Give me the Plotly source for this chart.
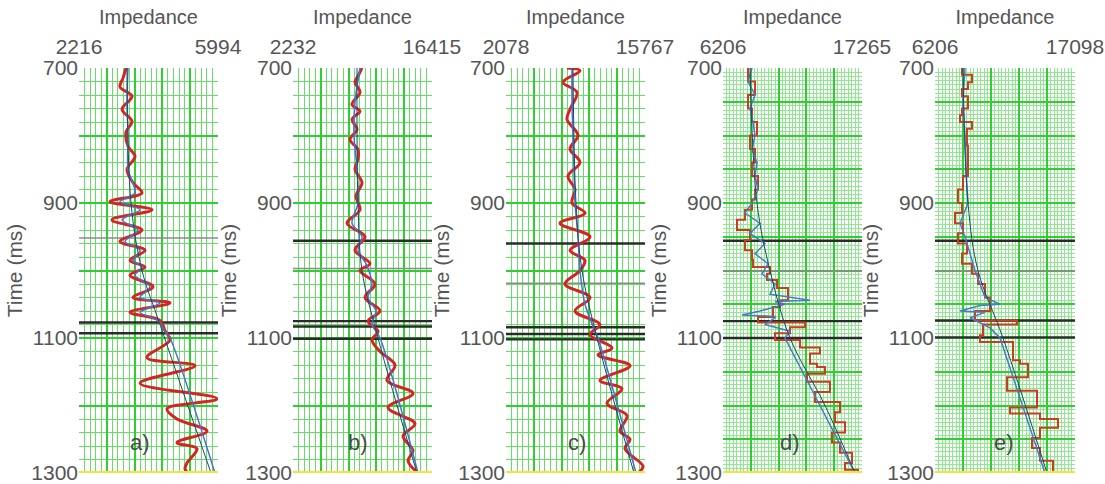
import plotly.graph_objects as go

# ---------------- data ----------------
TIME_MIN, TIME_MAX = 700, 1300
PANEL_LABELS = ["a)", "b)", "c)", "d)", "e)"]
X_MIN = [2216, 2232, 2078, 6206, 6206]
X_MAX = [5994, 16415, 15767, 17265, 17098]
Y_TICK_LABELS = ["700", "900", "1100", "1300"]
X_TITLE = "Impedance"
Y_TITLE = "Time (ms)"

# panel a
A_RED_T = [700, 715, 728, 742, 761, 779, 795, 816, 831, 850, 870, 885, 898, 910, 925, 940, 957, 970, 985, 995,
           1007, 1024, 1040, 1048, 1062, 1074, 1089, 1103, 1129, 1141, 1167, 1190, 1205, 1220, 1238, 1255, 1264,
           1285, 1294, 1300]
A_RED_V = [3493, 3412, 3330, 3657, 3385, 3657, 3493, 3548, 3738, 3521, 3684, 3928, 3059, 4200, 3113, 3928, 3330,
           4010, 3602, 4010, 3602, 4227, 3684, 4689, 3602, 4418, 4553, 4689, 4064, 5369, 3874, 5967, 4608, 4880,
           5695, 4880, 5423, 5151, 5097, 5179]
A_BLUE_T = [700, 750, 800, 850, 885, 898, 910, 925, 940, 957, 970, 985, 995, 1007, 1024, 1040, 1048, 1062, 1074,
            1090, 1100, 1300]
A_BLUE_V = [3548, 3521, 3548, 3548, 3738, 3330, 3874, 3385, 3820, 3466, 3874, 3684, 3928, 3738, 4146, 3874, 4418,
            3874, 4363, 4553, 4689, 5912]
A_TREND_T = [700, 900, 1000, 1080, 1300]
A_TREND_V = [3521, 3629, 3928, 4418, 5804]
A_DARK = [1077, 1093]
A_GRAY = [952]

# panel b
B_RED_T = [700, 712, 721, 736, 754, 764, 776, 791, 806, 821, 835, 850, 870, 890, 910, 930, 950, 970, 990, 1000,
           1020, 1040, 1060, 1075, 1090, 1103, 1120, 1140, 1163, 1182, 1203, 1227, 1245, 1267, 1282, 1300]
B_RED_V = [9273, 8865, 8558, 9069, 8252, 9069, 8252, 8763, 8048, 8865, 8865, 8558, 9273, 8660, 9069, 7742, 9579,
           8558, 10089, 9069, 10599, 9579, 11110, 9885, 10905, 10293, 11110, 12640, 11824, 14477, 11926, 14681,
           13456, 14477, 13967, 14987]
B_BLUE_T = [700, 750, 800, 850, 900, 930, 950, 970, 990, 1020, 1040, 1060, 1080, 1100, 1300]
B_BLUE_V = [9069, 8558, 8456, 8763, 8865, 8252, 9273, 8865, 9681, 10293, 9885, 10701, 10293, 11110, 14987]
B_TREND_T = [700, 900, 1000, 1100, 1300]
B_TREND_V = [8763, 8865, 9273, 10905, 14885]
B_DARK = [956, 1075, 1083, 1101]
B_GRAY = [997]

# panel c
C_RED_T = [700, 704, 721, 736, 761, 776, 800, 820, 840, 860, 880, 900, 915, 930, 950, 970, 985, 1000, 1020, 1040,
           1060, 1080, 1095, 1115, 1125, 1141, 1163, 1175, 1197, 1215, 1238, 1250, 1264, 1290, 1300]
C_RED_V = [8085, 9366, 7691, 9070, 8381, 8085, 9169, 8381, 9366, 8184, 8873, 8578, 9858, 7396, 10350, 8381, 9858,
           9366, 7888, 10350, 8873, 11335, 10350, 12517, 11138, 14290, 11335, 13502, 12024, 13994, 13305, 14290,
           13797, 15570, 15077]
C_BLUE_T = [700, 750, 800, 850, 900, 950, 1000, 1050, 1090, 1100, 1300]
C_BLUE_V = [8578, 8578, 8676, 8775, 8873, 9169, 9366, 9858, 10843, 11138, 14881]
C_TREND_T = [700, 900, 1000, 1100, 1300]
C_TREND_V = [8676, 8971, 9563, 11040, 14684]
C_DARK = [960, 1084, 1094, 1102]
C_GRAY = [1019]

# panel d
D_RED_T = [700, 720, 740, 760, 780, 800, 820, 840, 860, 880, 895, 910, 925, 940, 955, 970, 984, 995, 1005, 1014,
           1026, 1044, 1054, 1069, 1077, 1084, 1093, 1103, 1114, 1123, 1138, 1143, 1153, 1165, 1180, 1195, 1210,
           1225, 1240, 1255, 1270, 1285, 1295, 1300]
D_RED_V = [8195, 8752, 8195, 8513, 8911, 8354, 8752, 8513, 8991, 8752, 8513, 7956, 7320, 8354, 7956, 8513, 8593,
           9945, 9707, 10502, 11377, 10741, 10184, 8991, 12730, 11537, 10343, 12332, 13923, 13128, 13685, 14321,
           12889, 14719, 13526, 15514, 15117, 15912, 14878, 15514, 16469, 15912, 16946, 16946]
D_BLUE_T = [700, 720, 740, 760, 780, 800, 820, 840, 860, 880, 900, 915, 930, 945, 960, 975, 990, 1005, 1020, 1035,
            1044, 1046, 1050, 1060, 1066, 1068, 1070, 1080, 1090, 1100, 1300]
D_BLUE_V = [8513, 8195, 8752, 8354, 8593, 8752, 8513, 8911, 8752, 8991, 8513, 7956, 9150, 8354, 9548, 8752, 9786,
            9309, 10343, 9945, 13128, 10343, 11139, 9150, 7718, 10343, 10343, 9548, 11537, 11139, 16708]
D_TREND_T = [700, 900, 1000, 1100, 1200, 1300]
D_TREND_V = [8354, 8911, 9945, 11537, 14321, 16708]
D_DARK = [956, 1075, 1100]
D_GRAY = [1001]

# panel e
E_RED_T = [700, 710, 721, 731, 742, 760, 770, 780, 790, 815, 838, 860, 880, 900, 915, 930, 945, 960, 975, 990,
           1005, 1020, 1040, 1060, 1074, 1080, 1091, 1096, 1106, 1133, 1138, 1158, 1178, 1203, 1212, 1220, 1233,
           1248, 1263, 1282, 1300]
E_RED_V = [8307, 9085, 8773, 8307, 8773, 8307, 8151, 9085, 8696, 8773, 8773, 8384, 7995, 8307, 7762, 8384, 7995,
           8696, 8307, 9085, 9551, 10096, 10485, 9318, 12586, 9940, 9940, 9707, 12274, 12819, 13441, 11808, 14142,
           12041, 14375, 15775, 14375, 13753, 14375, 15386, 16164]
E_BLUE_T = [700, 750, 800, 850, 900, 930, 950, 975, 1000, 1020, 1040, 1050, 1052, 1060, 1062, 1070, 1085, 1100,
            1300]
E_BLUE_V = [8540, 8384, 8540, 8618, 8773, 8151, 8540, 8929, 9318, 9707, 10096, 11263, 9707, 8151, 10096, 8929,
            10485, 11263, 14764]
E_TREND_T = [700, 900, 1000, 1100, 1300]
E_TREND_V = [8384, 8773, 9551, 11496, 14920]
E_DARK = [956, 1074, 1099]
E_GRAY = [1001]

PANELS = [
    (A_RED_T, A_RED_V, A_BLUE_T, A_BLUE_V, A_TREND_T, A_TREND_V, A_DARK, A_GRAY),
    (B_RED_T, B_RED_V, B_BLUE_T, B_BLUE_V, B_TREND_T, B_TREND_V, B_DARK, B_GRAY),
    (C_RED_T, C_RED_V, C_BLUE_T, C_BLUE_V, C_TREND_T, C_TREND_V, C_DARK, C_GRAY),
    (D_RED_T, D_RED_V, D_BLUE_T, D_BLUE_V, D_TREND_T, D_TREND_V, D_DARK, D_GRAY),
    (E_RED_T, E_RED_V, E_BLUE_T, E_BLUE_V, E_TREND_T, E_TREND_V, E_DARK, E_GRAY),
]

# ---------------- layout ----------------
W, H = 1105, 484
PANEL_PX = [(79, 218), (293, 432), (506, 645), (723, 862), (935, 1075)]
LABEL_X = [0.44, 0.47, 0.51, 0.48, 0.49]
FONT = "Liberation Sans, Arial, sans-serif"
TXT = "#555555"
MAJOR_C = "#2fcf2f"
MINOR_C = "#66dd66"
MINOR_C_FINE = "#8fe88f"

fig = go.Figure()
layout = dict(
    width=W, height=H, margin=dict(l=0, r=0, t=68, b=11, autoexpand=False),
    paper_bgcolor="white", plot_bgcolor="white", showlegend=False,
    font=dict(family=FONT, size=21, color=TXT),
    shapes=[], annotations=[],
)

for i, (rt, rv, bt, bv, tt, tv, dark, gray) in enumerate(PANELS):
    n = "" if i == 0 else str(i + 1)
    xr = f"x{n}"
    yr = f"y{n}"
    xmin, xmax = X_MIN[i], X_MAX[i]
    fine = i >= 3
    step = (xmax - xmin) / 5
    xt = [xmin + k * step for k in range(6)]
    xtxt = [str(xmin), "", "", "", "", str(xmax)]
    ymaj = 50 if fine else 100
    yt = list(range(TIME_MIN, TIME_MAX + 1, ymaj))
    ytxt = [Y_TICK_LABELS[(t - TIME_MIN) // 200] if (t - TIME_MIN) % 200 == 0 else "" for t in yt]

    # marker horizons
    for lst, col, w in ((gray, "#8a8a8a", 1.5), (dark, "#2a2a2a", 2.4)):
        xs, ys = [], []
        for t in lst:
            xs += [xmin, xmax, None]
            ys += [t, t, None]
        fig.add_trace(go.Scatter(x=xs, y=ys, mode="lines", line=dict(color=col, width=w),
                                 xaxis=xr, yaxis=yr, hoverinfo="skip"))
    if fine:
        fig.add_trace(go.Scatter(x=rv, y=rt, mode="lines", line=dict(color="#cc3b22", width=2, shape="vh"),
                                 xaxis=xr, yaxis=yr))
        fig.add_trace(go.Scatter(x=bv, y=bt, mode="lines", line=dict(color="#4a78c8", width=1.5),
                                 xaxis=xr, yaxis=yr))
    else:
        fig.add_trace(go.Scatter(x=rv, y=rt, mode="lines",
                                 line=dict(color="#d42424", width=3, shape="spline", smoothing=1.0),
                                 xaxis=xr, yaxis=yr))
        fig.add_trace(go.Scatter(x=bv, y=bt, mode="lines",
                                 line=dict(color="#4a6fd0", width=1.5, shape="spline", smoothing=0.8),
                                 xaxis=xr, yaxis=yr))
    fig.add_trace(go.Scatter(x=tv, y=tt, mode="lines", line=dict(color="#1d4a66", width=1, shape="spline"),
                             xaxis=xr, yaxis=yr))

    x0, x1 = PANEL_PX[i]
    layout[f"xaxis{n}"] = dict(
        domain=[x0 / W, x1 / W], anchor=yr, range=[xmin, xmax], side="top", automargin=False,
        tickmode="array", tickvals=xt, ticktext=xtxt, ticks="", ticklabelstandoff=9,
        showgrid=True, gridcolor=MAJOR_C, gridwidth=2, zeroline=False, showline=False,
        tickfont=dict(size=21, color=TXT),
        title=dict(text=X_TITLE, font=dict(size=20, color=TXT), standoff=4),
        minor=dict(tickmode="linear", tick0=xmin, dtick=step / (8 if fine else 5),
                   showgrid=True, gridcolor=MINOR_C_FINE if fine else MINOR_C, gridwidth=1),
        fixedrange=True,
    )
    layout[f"yaxis{n}"] = dict(
        domain=[0, 1], anchor=xr, range=[TIME_MAX, TIME_MIN], automargin=False,
        tickmode="array", tickvals=yt, ticktext=ytxt, ticks="",
        ticklabeloverflow="allow",
        showgrid=True, gridcolor=MAJOR_C, gridwidth=2, zeroline=False, showline=False,
        tickfont=dict(size=21, color=TXT),
        title=dict(text=Y_TITLE, font=dict(size=21, color=TXT), standoff=2),
        minor=dict(tickmode="linear", tick0=TIME_MIN, dtick=(6.25 if fine else 20),
                   showgrid=True, gridcolor=MINOR_C_FINE if fine else MINOR_C, gridwidth=1),
        fixedrange=True,
    )
    layout["shapes"].append(dict(type="line", xref=f"{xr} domain", yref=yr, x0=0, x1=1,
                                 y0=TIME_MAX, y1=TIME_MAX, line=dict(color="#f2e43a", width=4),
                                 layer="above"))
    layout["annotations"].append(dict(text=PANEL_LABELS[i], xref=f"{xr} domain", yref=f"{yr} domain",
                                      x=LABEL_X[i], y=0.04, showarrow=False,
                                      font=dict(size=22, color="#4a4a4a")))

fig.update_layout(**layout)
fig.write_html("out.html")
